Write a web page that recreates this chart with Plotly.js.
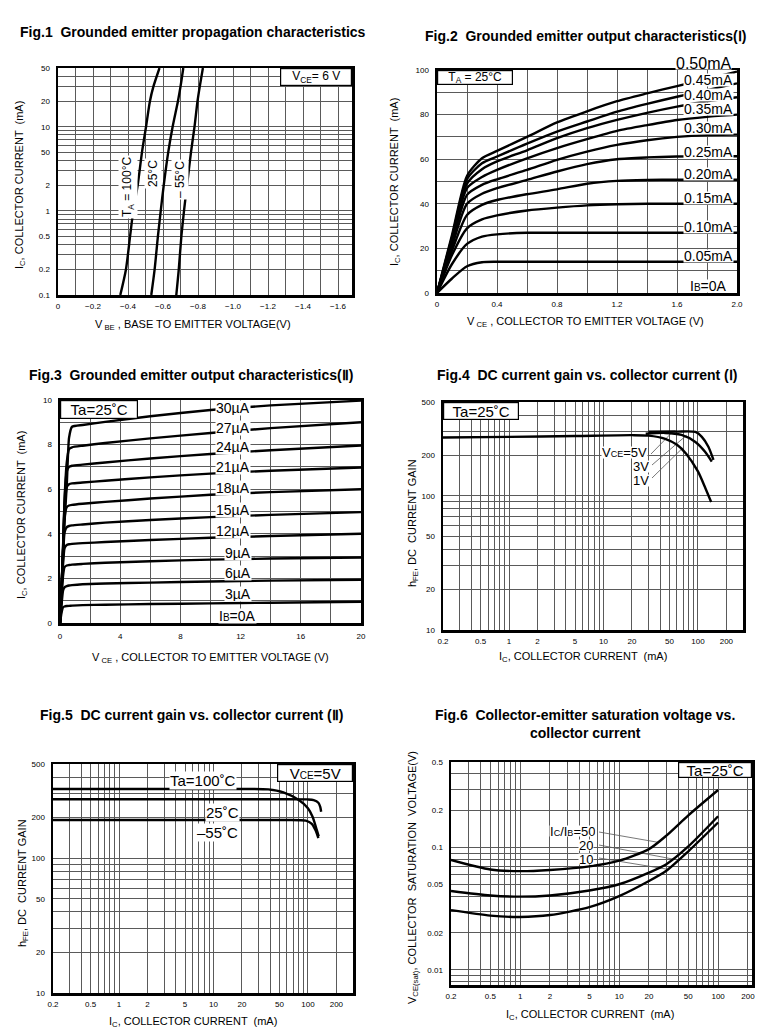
<!DOCTYPE html>
<html><head><meta charset="utf-8">
<script src="https://cdn.plot.ly/plotly-3.0.1.min.js"></script>
<style>html,body{margin:0;padding:0;background:#fff}#chart{width:775px;height:1035px}</style>
</head><body><div id="chart"></div>
<script>
const W = 775, H = 1035;
const FONT = 'Liberation Sans, Arial, Helvetica, sans-serif';

// ---------- Fig.1 data ----------
const f1_ic = [0.1, 0.2, 0.5, 1, 2, 5, 10, 20, 30, 50];
const f1_vbe_100 = [-0.356, -0.388, -0.412, -0.43, -0.455, -0.48, -0.503, -0.525, -0.545, -0.58];
const f1_vbe_25  = [-0.533, -0.552, -0.571, -0.587, -0.604, -0.63, -0.655, -0.685, -0.70, -0.716];
const f1_vbe_m55 = [-0.676, -0.69, -0.705, -0.72, -0.737, -0.76, -0.78, -0.797, -0.81, -0.828];
const f1_xticks = [0, -0.2, -0.4, -0.6, -0.8, -1.0, -1.2, -1.4, -1.6];
const f1_xtext = ['0', '\u22120.2', '\u22120.4', '\u22120.6', '\u22120.8', '\u22121.0', '\u22121.2', '\u22121.4', '\u22121.6'];
const f1_xminor = [-0.1, -0.3, -0.5, -0.7, -0.9, -1.1, -1.3, -1.5];
const f1_yticks = [0.1, 0.2, 0.5, 1, 2, 5, 10, 20, 50];
const f1_ytext = ['0.1', '0.2', '0.5', '1', '2', '50', '10', '20', '50'];
const f1_yminor = [0.3, 0.4, 0.6, 0.7, 0.8, 0.9, 3, 4, 6, 7, 8, 9, 30, 40];

// ---------- Fig.2 data ----------
const f2_vce = [0, 0.1, 0.2, 0.3, 0.4, 0.6, 0.8, 1.0, 1.2, 1.4, 1.6, 1.8, 2.0];
const f2_ib005 = [0, 6.5, 12, 13.8, 14, 14, 14, 14, 14, 14, 14, 14, 14];
const f2_ib010 = [0, 13, 22, 25.3, 26.3, 27, 27, 27, 27, 27, 27, 27, 27];
const f2_ib015 = [0, 17, 29, 33, 34.8, 37, 38.3, 39.3, 39.8, 40, 40, 40, 40];
const f2_ib020 = [0, 19, 35, 39.5, 41.7, 44.3, 46.5, 49, 50.3, 50.7, 50.8, 50.8, 50.8];
const f2_ib025 = [0, 21, 40, 44.5, 47, 50.7, 54.5, 57.8, 60, 60.8, 61.2, 61.3, 61.3];
const f2_ib030 = [0, 22, 44, 48.5, 51, 55.2, 59.7, 63.4, 66.4, 68.5, 70, 70.8, 71];
const f2_ib035 = [0, 23, 47, 52, 55.2, 60.4, 65, 69, 72.7, 75.3, 77.6, 79, 80];
const f2_ib040 = [0, 24, 49, 55.5, 59, 64, 69.4, 73.9, 77.6, 80.8, 83.6, 86, 87.8];
const f2_ib045 = [0, 25, 51, 58.2, 61.2, 67, 72.4, 76.9, 81.3, 84.8, 88, 91, 94];
const f2_ib050 = [0, 26, 52.5, 60.4, 63.7, 70, 76.5, 81.5, 86, 89.5, 92.8, 96, 99.3];
const f2_xticks = [0, 0.4, 0.8, 1.2, 1.6, 2.0];
const f2_xtext = ['0', '0.4', '0.8', '1.2', '1.6', '2.0'];
const f2_xminor = [0.2, 0.6, 1.0, 1.4, 1.8];
const f2_yticks = [0, 20, 40, 60, 80, 100];
const f2_yminor = [10, 30, 50, 70, 90];
const f2_labels = ['0.50mA', '0.45mA', '0.40mA', '0.35mA', '0.30mA', '0.25mA', '0.20mA', '0.15mA', '0.10mA', '0.05mA', 'I<span style="font-size:10px">B</span>=0A'];

// ---------- Fig.3 data ----------
const f3_vce = [0, 0.1, 0.2, 0.3, 0.45, 0.6, 0.8, 1.5, 3, 6, 10, 14, 20];
const f3_ib03 = [0, 0.45, 0.7, 0.74, 0.76, 0.77, 0.78, 0.8, 0.82, 0.85, 0.88, 0.91, 0.95];
const f3_ib06 = [0, 0.8, 1.45, 1.6, 1.65, 1.68, 1.7, 1.74, 1.77, 1.81, 1.86, 1.9, 1.94];
const f3_ib09 = [0, 1.1, 2.1, 2.5, 2.58, 2.6, 2.62, 2.65, 2.7, 2.77, 2.84, 2.89, 2.94];
const f3_ib12 = [0, 1.3, 2.6, 3.35, 3.5, 3.53, 3.55, 3.58, 3.63, 3.72, 3.82, 3.9, 4.0];
const f3_ib15 = [0, 1.4, 2.9, 4.05, 4.3, 4.35, 4.38, 4.42, 4.5, 4.62, 4.75, 4.85, 4.97];
const f3_ib18 = [0, 1.45, 3.1, 4.7, 5.2, 5.27, 5.3, 5.35, 5.43, 5.58, 5.75, 5.87, 6.0];
const f3_ib21 = [0, 1.5, 3.2, 5.1, 6.1, 6.22, 6.26, 6.3, 6.38, 6.53, 6.7, 6.83, 6.97];
const f3_ib24 = [0, 1.5, 3.3, 5.4, 6.8, 7.0, 7.05, 7.1, 7.2, 7.38, 7.58, 7.75, 7.96];
const f3_ib27 = [0, 1.55, 3.35, 5.5, 7.2, 7.8, 7.88, 7.95, 8.07, 8.28, 8.52, 8.74, 9.0];
const f3_ib30 = [0, 1.5, 3.2, 4.5, 6.2, 8.3, 8.8, 8.88, 9.02, 9.27, 9.55, 9.76, 9.97];
const f3_xticks = [0, 4, 8, 12, 16, 20];
const f3_xminor = [2, 6, 10, 14, 18];
const f3_yticks = [0, 2, 4, 6, 8, 10];
const f3_yminor = [1, 3, 5, 7, 9];
const f3_labels = ['30\u00b5A', '27\u00b5A', '24\u00b5A', '21\u00b5A', '18\u00b5A', '15\u00b5A', '12\u00b5A', '9\u00b5A', '6\u00b5A', '3\u00b5A', 'I<span style="font-size:10px">B</span>=0A'];

// ---------- Fig.4 data ----------
const f4_ic_1v = [0.2, 1, 5, 20, 30, 45, 60, 75, 100, 120, 138];
const f4_hfe_1v = [272, 275, 279, 283, 281, 266, 240, 206, 152, 114, 90];
const f4_ic_3v = [28, 45, 67, 94, 119, 140];
const f4_hfe_3v = [290, 294, 284, 252, 213, 180];
const f4_ic_5v = [30, 60, 94, 110, 129, 146];
const f4_hfe_5v = [300, 301, 299, 275, 232, 185];

// ---------- Fig.5 data ----------
const f5_ic_100 = [0.2, 1, 10, 38, 55, 80, 100, 112, 124, 130];
const f5_hfe_100 = [326, 326, 326, 324, 308, 270, 235, 203, 162, 145];
const f5_ic_25 = [0.2, 1, 10, 50, 100, 115, 129, 135, 138];
const f5_hfe_25 = [274, 274, 274, 274, 273, 270, 258, 240, 221];
const f5_ic_m55 = [0.2, 1, 10, 50, 95, 110, 120, 129];
const f5_hfe_m55 = [192, 192, 192, 192, 190, 180, 162, 141];

// shared log axis ticks for Fig.4/5/6
const logx_ticks = [0.2, 0.5, 1, 2, 5, 10, 20, 50, 100, 200];
const logx_minor = [0.3, 0.4, 0.6, 0.7, 0.8, 0.9, 3, 4, 6, 7, 8, 9, 30, 40, 60, 70, 80, 90, 300];
const hfe_ticks = [10, 20, 50, 100, 200, 500];
const hfe_minor = [30, 40, 60, 70, 80, 90, 300, 400];

// ---------- Fig.6 data ----------
const f6_ic = [0.2, 0.5, 1, 2, 5, 10, 20, 30, 50, 100];
const f6_r50 = [0.079, 0.066, 0.064, 0.0655, 0.07, 0.078, 0.097, 0.125, 0.183, 0.295];
const f6_r20 = [0.0441, 0.0405, 0.0396, 0.0405, 0.0445, 0.05, 0.0623, 0.073, 0.102, 0.18];
const f6_r10 = [0.0307, 0.0277, 0.027, 0.028, 0.0325, 0.04, 0.0532, 0.0645, 0.093, 0.16];
const f6_yticks = [0.01, 0.02, 0.05, 0.1, 0.2, 0.5];
const f6_yminor = [0.008, 0.009, 0.03, 0.04, 0.06, 0.07, 0.08, 0.09, 0.3, 0.4];

// ---------- layout geometry (pixels) ----------
const boxes = {
  1: {x: [58, 352], y: [68, 295], xr: [0, -1.68], yr: [-1, Math.log10(50)], xt: 'linear', yt: 'log'},
  2: {x: [437, 737], y: [70, 293], xr: [0, 2.0], yr: [0, 100], xt: 'linear', yt: 'linear'},
  3: {x: [60, 361], y: [400, 623], xr: [0, 20], yr: [0, 10], xt: 'linear', yt: 'linear'},
  4: {x: [443, 743], y: [402, 630], xr: [Math.log10(0.2), Math.log10(300)], yr: [1, Math.log10(500)], xt: 'log', yt: 'log'},
  5: {x: [53, 353], y: [764, 993], xr: [Math.log10(0.2), Math.log10(300)], yr: [1, Math.log10(500)], xt: 'log', yt: 'log'},
  6: {x: [451, 752], y: [762, 985], xr: [Math.log10(0.2), Math.log10(220)], yr: [Math.log10(0.0075), Math.log10(0.5)], xt: 'log', yt: 'log'}
};

function toPx(k, xv, yv) {
  const b = boxes[k];
  const lx = b.xt === 'log' ? Math.log10(xv) : xv;
  const ly = b.yt === 'log' ? Math.log10(yv) : yv;
  return [b.x[0] + (lx - b.xr[0]) / (b.xr[1] - b.xr[0]) * (b.x[1] - b.x[0]),
          b.y[1] - (ly - b.yr[0]) / (b.yr[1] - b.yr[0]) * (b.y[1] - b.y[0])];
}

const GRID = '#5a5a5a';
function axis(k, dir, vals, text, minor) {
  const b = boxes[k];
  const isX = dir === 'x';
  const dom = isX ? [b.x[0] / W, b.x[1] / W] : [1 - b.y[1] / H, 1 - b.y[0] / H];
  return {
    domain: dom, range: isX ? b.xr : b.yr, type: isX ? b.xt : b.yt,
    anchor: (isX ? 'y' : 'x') + (k === 1 ? '' : k),
    tickmode: 'array', tickvals: vals, ticktext: text || vals.map(String),
    showgrid: true, gridcolor: GRID, gridwidth: 1,
    minor: {tickmode: 'array', tickvals: minor, showgrid: true, gridcolor: GRID, gridwidth: 1, ticks: ''},
    showline: true, mirror: true, linewidth: 2.5, linecolor: '#000',
    zeroline: false, ticks: '', ticklabelstandoff: isX ? (k === 3 ? 4 : 2) : 4,
    tickfont: {family: FONT, size: 8, color: '#000'}, fixedrange: true
  };
}

const LW = 2.4;
function line(k, x, y, smooth) {
  const s = k === 1 ? '' : String(k);
  return {x: x, y: y, xaxis: 'x' + s, yaxis: 'y' + s, mode: 'lines', type: 'scatter',
          line: {color: '#000', width: LW, shape: 'spline', smoothing: smooth === undefined ? 0.7 : smooth},
          hoverinfo: 'skip', showlegend: false};
}

const traces = [
  line(1, f1_vbe_100, f1_ic), line(1, f1_vbe_25, f1_ic), line(1, f1_vbe_m55, f1_ic),
  line(2, f2_vce, f2_ib005), line(2, f2_vce, f2_ib010), line(2, f2_vce, f2_ib015), line(2, f2_vce, f2_ib020),
  line(2, f2_vce, f2_ib025), line(2, f2_vce, f2_ib030), line(2, f2_vce, f2_ib035), line(2, f2_vce, f2_ib040),
  line(2, f2_vce, f2_ib045), line(2, f2_vce, f2_ib050),
  line(3, f3_vce, f3_ib03, 0.5), line(3, f3_vce, f3_ib06, 0.5), line(3, f3_vce, f3_ib09, 0.5), line(3, f3_vce, f3_ib12, 0.5),
  line(3, f3_vce, f3_ib15, 0.5), line(3, f3_vce, f3_ib18, 0.5), line(3, f3_vce, f3_ib21, 0.5), line(3, f3_vce, f3_ib24, 0.5),
  line(3, f3_vce, f3_ib27, 0.5), line(3, f3_vce, f3_ib30, 0.5),
  line(4, f4_ic_1v, f4_hfe_1v), line(4, f4_ic_3v, f4_hfe_3v), line(4, f4_ic_5v, f4_hfe_5v),
  line(5, f5_ic_100, f5_hfe_100), line(5, f5_ic_25, f5_hfe_25), line(5, f5_ic_m55, f5_hfe_m55),
  line(6, f6_ic, f6_r50), line(6, f6_ic, f6_r20), line(6, f6_ic, f6_r10)
];

// ---------- annotations ----------
const ann = [];
function lab(text, px, py, o) {
  o = o || {};
  ann.push(Object.assign({xref: 'paper', yref: 'paper', x: px / W, y: 1 - py / H, text: text, showarrow: false,
    xanchor: 'center', yanchor: 'middle', font: {family: FONT, size: o.size || 11, color: '#000'}}, o.extra || {}));
}
function title(text, px, py, anchor) {
  lab('<b>' + text + '</b>', px, py, {size: 14, extra: {xanchor: anchor || 'center'}});
}
function boxLab(text, px, py, w, h, xanchor, size) {
  lab(text, px, py, {size: size, extra: {xanchor: xanchor, yanchor: 'top', bgcolor: '#fff', bordercolor: '#000',
    borderwidth: 1.2, borderpad: 0, width: w, height: h, align: 'center', valign: 'middle'}});
}
function curveLab(text, px, py, size, xanchor, h) {
  const extra = {bgcolor: '#fff', borderpad: 0, xanchor: xanchor || 'center'};
  if (h) { extra.height = h; extra.valign = 'middle'; }
  lab(text, px, py, {size: size, extra: extra});
}
function rotLab(text, px, py, size, bg) {
  lab(text, px, py, {size: size, extra: {textangle: -90, bgcolor: bg || 'rgba(0,0,0,0)'}});
}

// titles
title('Fig.1  Grounded emitter propagation characteristics', 18, 32, 'left');
title('Fig.2  Grounded emitter output characteristics(\u2160)', 585, 36);
title('Fig.3  Grounded emitter output characteristics(\u2161)', 191, 375);
title('Fig.4  DC current gain vs. collector current (\u2160)', 587, 375);
title('Fig.5  DC current gain vs. collector current (\u2161)', 191, 715);
title('Fig.6  Collector-emitter saturation voltage vs.', 585, 715);
title('collector current', 585, 733);

// axis titles
const ICT = 'I<sub>C</sub>, COLLECTOR CURRENT  (mA)';
rotLab(ICT, 20, 185, 11);
lab('V<sub> BE</sub> , BASE TO EMITTER VOLTAGE(V)', 193, 325, {size: 11});
rotLab(ICT, 395, 182, 11);
lab('V<sub> CE</sub> , COLLECTOR TO EMITTER VOLTAGE (V)', 585, 322, {size: 11});
rotLab(ICT, 22, 515, 11);
lab('V<sub> CE</sub> , COLLECTOR TO EMITTER VOLTAGE (V)', 210, 658, {size: 11});
rotLab('h<sub>FE</sub>, DC  CURRENT GAIN', 413, 523, 11);
lab(ICT, 583, 657, {size: 11});
rotLab('h<sub>FE</sub>, DC  CURRENT GAIN', 23, 883, 11);
lab(ICT, 193, 1022, {size: 11});
rotLab('V<sub>CE(sat)</sub>, COLLECTOR  SATURATION  VOLTAGE(V)', 413, 878, 11);
lab(ICT, 590, 1015, {size: 11});

// Fig.1 labels
boxLab('V<sub>CE</sub>= 6 V', 352, 68, 70, 16, 'right', 12);
rotLab('T<sub>A</sub> = 100\u00b0C', 128, 187, 12, '#fff');
rotLab('25\u00b0C', 153, 174, 12, '#fff');
rotLab('\u2013 55\u00b0C', 180, 180, 12, '#fff');

// Fig.2 labels
boxLab('T<sub>A</sub> = 25\u00b0C', 437, 70, 74, 13, 'left', 12);
const f2_labY = [63, 80, 95, 109, 128, 152, 174, 198, 227, 256, 286];
f2_labels.forEach((t, i) => curveLab(t, i === 0 ? 703 : 708, f2_labY[i], i === 0 ? 16 : 14, 'center', 12));

// Fig.3 labels
boxLab('Ta=25\u02daC', 60, 400, 76, 17, 'left', 15);
const f3_labY = [408, 428, 447, 467, 488, 510, 531, 553, 573, 594, 616];
f3_labels.forEach((t, i) => curveLab(t, i < 7 ? 233 : 238, f3_labY[i], 14, 'center', 14));

// Fig.4 labels + leader lines
boxLab('Ta=25\u02daC', 443, 402, 74, 16, 'left', 15);
curveLab('V<span style="font-size:9px">CE</span>=5V', 648, 452, 13, 'right', 11);
curveLab('3V', 650, 466, 13, 'right', 11);
curveLab('1V', 650, 480, 13, 'right', 11);
const shapes = [];
function leader(k, sx, sy, tx, ty) {
  const p = toPx(k, tx, ty);
  shapes.push({type: 'line', xref: 'paper', yref: 'paper', x0: sx / W, y0: 1 - sy / H, x1: p[0] / W, y1: 1 - p[1] / H,
    line: {color: '#555', width: 0.8}, layer: 'below'});
}
leader(4, 651, 454, 54, 300);
leader(4, 652, 465, 76, 283);
leader(4, 652, 478, 68, 225);

// Fig.5 labels
boxLab('V<span style="font-size:10px">CE</span>=5V', 353, 764, 74, 16, 'right', 15);
curveLab('Ta=100\u02daC', 203, 780, 15);
curveLab('25\u02daC', 223, 812, 15);
curveLab('\u201355\u02daC', 217, 832, 15);

// Fig.6 labels + leader lines
boxLab('Ta=25\u02daC', 752, 762, 72, 14, 'right', 15);
curveLab('I<span style="font-size:9px">C</span>/I<span style="font-size:9px">B</span>=50', 596, 831, 13, 'right', 10);
curveLab('20', 594, 845, 13, 'right', 10);
curveLab('10', 594, 859, 13, 'right', 10);
leader(6, 599, 832, 25, 0.11);
leader(6, 599, 845, 36, 0.08);
leader(6, 599, 858, 32, 0.066);

const layout = {
  width: W, height: H, margin: {l: 0, r: 0, t: 0, b: 0},
  paper_bgcolor: '#fff', plot_bgcolor: '#fff', showlegend: false,
  font: {family: FONT, color: '#000'},
  xaxis: axis(1, 'x', f1_xticks, f1_xtext, f1_xminor), yaxis: axis(1, 'y', f1_yticks, f1_ytext, f1_yminor),
  xaxis2: axis(2, 'x', f2_xticks, f2_xtext, f2_xminor), yaxis2: axis(2, 'y', f2_yticks, null, f2_yminor),
  xaxis3: axis(3, 'x', f3_xticks, null, f3_xminor), yaxis3: axis(3, 'y', f3_yticks, null, f3_yminor),
  xaxis4: axis(4, 'x', logx_ticks, null, logx_minor), yaxis4: axis(4, 'y', hfe_ticks, null, hfe_minor),
  xaxis5: axis(5, 'x', logx_ticks, null, logx_minor), yaxis5: axis(5, 'y', hfe_ticks, null, hfe_minor),
  xaxis6: axis(6, 'x', logx_ticks, null, logx_minor), yaxis6: axis(6, 'y', f6_yticks, null, f6_yminor),
  annotations: ann, shapes: shapes
};

Plotly.newPlot('chart', traces, layout, {staticPlot: true, displayModeBar: false});
</script></body></html>
